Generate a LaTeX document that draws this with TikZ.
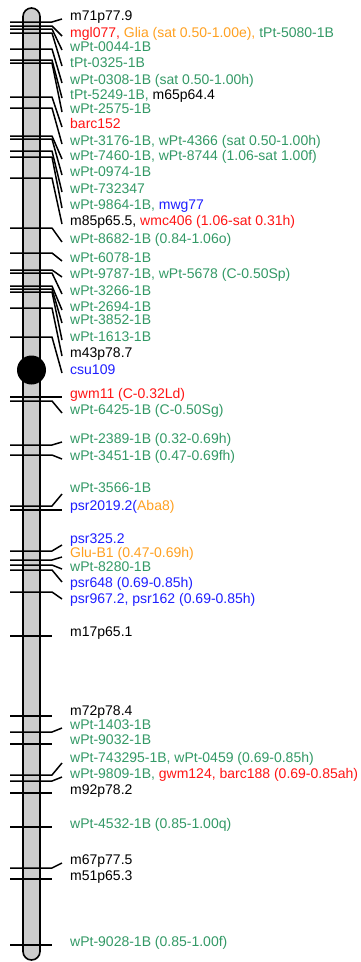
\documentclass[tikz,border=0pt]{standalone}
\usepackage{fontspec}
\setmainfont{Liberation Sans}
\definecolor{mkgreen}{RGB}{51,153,102}
\definecolor{mkred}{RGB}{255,20,20}
\definecolor{mkorange}{RGB}{255,160,32}
\definecolor{mkblue}{RGB}{30,30,255}
\definecolor{chromgray}{RGB}{204,204,204}
\newcommand{\mkG}[1]{\textcolor{mkgreen}{#1}}
\newcommand{\mkR}[1]{\textcolor{mkred}{#1}}
\newcommand{\mkO}[1]{\textcolor{mkorange}{#1}}
\newcommand{\mkB}[1]{\textcolor{mkblue}{#1}}
\newcommand{\mkK}[1]{\textcolor{black}{#1}}
\begin{document}
\begin{tikzpicture}[x=1pt,y=-1pt,
  tickline/.style={line width=1.5pt, line join=round},
  lab/.style={anchor=base west, inner sep=0pt, font=\fontsize{14}{16}\selectfont}]
\useasboundingbox (0,0) rectangle (361,962);
% chromosome body
\draw[fill=chromgray, line width=1.6pt, rounded corners=8.5pt] (23,8) rectangle (40,960);
% loci: tick y / connector end y (0 = none) / label centre y / label
\foreach \t/\e/\c/\txt [count=\i] in {
  22/19/15/{\mkK{m71p77.9}},
  26/36/32/{\mkR{mgl077,} \mkO{Glia (sat 0.50-1.00e),} \mkG{tPt-5080-1B}},
  29/50/46/{\mkG{wPt-0044-1B}},
  33/66/62/{\mkG{tPt-0325-1B}},
  49/83/79/{\mkG{wPt-0308-1B (sat 0.50-1.00h)}},
  60/98/94/{\mkG{tPt-5249-1B,} \mkK{m65p64.4}},
  63/112/108/{\mkG{wPt-2575-1B}},
  97/127/123/{\mkR{barc152}},
  108/144/140/{\mkG{wPt-3176-1B, wPt-4366 (sat 0.50-1.00h)}},
  136/159/155/{\mkG{wPt-7460-1B, wPt-8744 (1.06-sat 1.00f)}},
  139/175/171/{\mkG{wPt-0974-1B}},
  151/192/188/{\mkG{wPt-732347}},
  157/208/204/{\mkG{wPt-9864-1B,} \mkB{mwg77}},
  178/224/220/{\mkK{m85p65.5,} \mkR{wmc406 (1.06-sat 0.31h)}},
  228/242/238/{\mkG{wPt-8682-1B (0.84-1.06o)}},
  253/261/257/{\mkG{wPt-6078-1B}},
  270/277/273/{\mkG{wPt-9787-1B, wPt-5678 (C-0.50Sp)}},
  273/294/290/{\mkG{wPt-3266-1B}},
  286/310/306/{\mkG{wPt-2694-1B}},
  289/323/319/{\mkG{wPt-3852-1B}},
  292/340/336/{\mkG{wPt-1613-1B}},
  308/356/352/{\mkK{m43p78.7}},
  337/373/369/{\mkB{csu109}},
  397/397/393/{\mkR{gwm11 (C-0.32Ld)}},
  401/413/409/{\mkG{wPt-6425-1B (C-0.50Sg)}},
  445/442/438/{\mkG{wPt-2389-1B (0.32-0.69h)}},
  455/459/455/{\mkG{wPt-3451-1B (0.47-0.69fh)}},
  506/494/487/{\mkG{wPt-3566-1B}},
  510/510/505/{\mkB{psr2019.2(}\mkO{Aba8)}},
  551/545/538/{\mkB{psr325.2}},
  560/557/552/{\mkO{Glu-B1 (0.47-0.69h)}},
  565/569/566/{\mkG{wPt-8280-1B}},
  570/582/582/{\mkB{psr648 (0.69-0.85h)}},
  592/599/598/{\mkB{psr967.2, psr162 (0.69-0.85h)}},
  636/0/631/{\mkK{m17p65.1}},
  716/0/710/{\mkK{m72p78.4}},
  732/728/724/{\mkG{wPt-1403-1B}},
  744/0/739/{\mkG{wPt-9032-1B}},
  775/763/757/{\mkG{wPt-743295-1B, wPt-0459 (0.69-0.85h)}},
  781/777/773/{\mkG{wPt-9809-1B,} \mkR{gwm124, barc188 (0.69-0.85ah)}},
  793/0/789/{\mkK{m92p78.2}},
  827/0/823/{\mkG{wPt-4532-1B (0.85-1.00q)}},
  868/863/859/{\mkK{m67p77.5}},
  879/0/875/{\mkK{m51p65.3}},
  945/0/941/{\mkG{wPt-9028-1B (0.85-1.00f)}}
}{
  \coordinate (tl\i) at (10,\t);
  \coordinate (tr\i) at (52,\t);
  \ifnum\e>0
    \coordinate (ce\i) at (62,\e);
    \draw[tickline] (tl\i) -- (tr\i) -- (ce\i);
  \else
    \draw[tickline] (tl\i) -- (tr\i);
  \fi
  \node[lab] (lab\i) at (70,\c+5) {\txt};
}
% centromere
\node[circle, fill=black, inner sep=0pt, minimum size=29pt] (centromere) at (31.5,370) {};
\end{tikzpicture}
\end{document}
